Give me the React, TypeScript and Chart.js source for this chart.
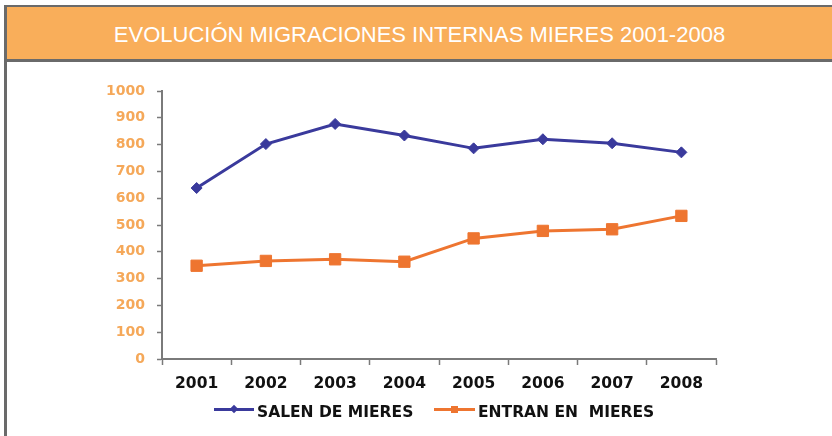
import React, { useEffect, useRef } from "react";
import { Chart, registerables } from "chart.js";

Chart.register(...registerables);

const TITLE = "EVOLUCIÓN MIGRACIONES INTERNAS MIERES 2001-2008";
const years = ["2001", "2002", "2003", "2004", "2005", "2006", "2007", "2008"];
const salenDeMieres = [638, 802, 877, 834, 786, 820, 805, 771];
const entranEnMieres = [348, 366, 372, 363, 450, 478, 484, 534];
const seriesNames = ["SALEN DE MIERES", "ENTRAN EN  MIERES"];
const yMin = 0;
const yMax = 1000;
const yStep = 100;

const BLUE = "#3A3A9C";
const ORANGE = "#EE7530";
const HEADER = "#F9AE5A";
const FRAME = "#6a6a6a";
const AXIS = "#7a7a7a";
const FONT = "'DejaVu Sans', Verdana, sans-serif";

export default function App() {
  const ref = useRef<HTMLCanvasElement | null>(null);

  useEffect(() => {
    const canvas = ref.current;
    if (!canvas) return;
    const chart = new Chart(canvas, {
      type: "line",
      data: {
        labels: years,
        datasets: [
          {
            label: seriesNames[0],
            data: salenDeMieres,
            borderColor: BLUE,
            backgroundColor: BLUE,
            borderWidth: 3,
            pointStyle: "rectRot",
            pointRadius: 5.5,
            pointBorderWidth: 1,
            pointBackgroundColor: BLUE,
            pointBorderColor: BLUE,
            tension: 0,
          },
          {
            label: seriesNames[1],
            data: entranEnMieres,
            borderColor: ORANGE,
            backgroundColor: ORANGE,
            borderWidth: 3,
            pointStyle: "rect",
            pointRadius: 8,
            pointBorderWidth: 1,
            pointBackgroundColor: ORANGE,
            pointBorderColor: ORANGE,
            tension: 0,
          },
        ],
      },
      options: {
        responsive: false,
        animation: false,
        layout: { padding: { top: 91, left: 0, right: 116, bottom: 41 } },
        plugins: {
          legend: { display: false },
          title: { display: false },
          tooltip: { enabled: false },
        },
        scales: {
          x: {
            offset: true,
            grid: {
              display: true,
              offset: true,
              drawOnChartArea: false,
              drawTicks: true,
              tickLength: 6,
              tickColor: AXIS,
              tickWidth: 1.5,
            },
            border: { display: true, color: AXIS, width: 2 },
            ticks: {
              color: "#111111",
              padding: 10,
              font: { family: FONT, size: 15.5, weight: "bold" },
              maxRotation: 0,
              autoSkip: false,
            },
            afterFit: (s: any) => {
              s.height = 36;
            },
          },
          y: {
            min: yMin,
            max: yMax,
            grid: {
              display: true,
              drawOnChartArea: false,
              drawTicks: true,
              tickLength: 5,
              tickColor: AXIS,
              tickWidth: 1.5,
            },
            border: { display: true, color: AXIS, width: 2 },
            ticks: {
              stepSize: yStep,
              color: "#F5A859",
              padding: 12,
              font: { family: FONT, size: 14, weight: "bold" },
              callback: (v: any) => String(v),
            },
            afterFit: (s: any) => {
              s.width = 162;
            },
          },
        },
      },
    });
    return () => chart.destroy();
  }, []);

  const abs = (o: React.CSSProperties): React.CSSProperties => ({ position: "absolute", ...o });

  return (
    <div style={{ position: "fixed", left: 0, top: 0, width: 832, height: 436, overflow: "hidden", background: "#fff" }}>
      <div style={abs({ left: 7, top: 7, width: 825, height: 52, background: HEADER })} />
      <div style={abs({ left: 4, top: 5, width: 828, height: 2, background: FRAME })} />
      <div style={abs({ left: 4, top: 5, width: 3, height: 431, background: FRAME })} />
      <div style={abs({ left: 4, top: 59, width: 828, height: 3, background: FRAME })} />
      <div
        style={abs({
          left: 7,
          top: 23.5,
          width: 825,
          textAlign: "center",
          color: "#ffffff",
          fontFamily: "'Liberation Sans', Arial, sans-serif",
          fontSize: 22,
          lineHeight: "22px",
          whiteSpace: "pre",
        })}
      >
        {TITLE}
      </div>
      <canvas ref={ref} width={832} height={436} style={abs({ left: 0, top: 0, width: 832, height: 436 })} />
      {/* legend */}
      <div style={abs({ left: 214, top: 408, width: 40, height: 3, background: BLUE })} />
      <div style={abs({ left: 231, top: 406, width: 6, height: 6, background: BLUE, transform: "rotate(45deg)" })} />
      <div
        style={abs({
          left: 257,
          top: 405,
          fontFamily: FONT,
          fontWeight: "bold",
          fontSize: 15.5,
          lineHeight: "15.5px",
          color: "#111",
          whiteSpace: "pre",
        })}
      >
        {seriesNames[0]}
      </div>
      <div style={abs({ left: 434, top: 408, width: 41, height: 3, background: ORANGE })} />
      <div style={abs({ left: 451, top: 406, width: 7, height: 7, background: ORANGE })} />
      <div
        style={abs({
          left: 478,
          top: 405,
          fontFamily: FONT,
          fontWeight: "bold",
          fontSize: 15.5,
          lineHeight: "15.5px",
          color: "#111",
          whiteSpace: "pre",
        })}
      >
        {seriesNames[1]}
      </div>
    </div>
  );
}
